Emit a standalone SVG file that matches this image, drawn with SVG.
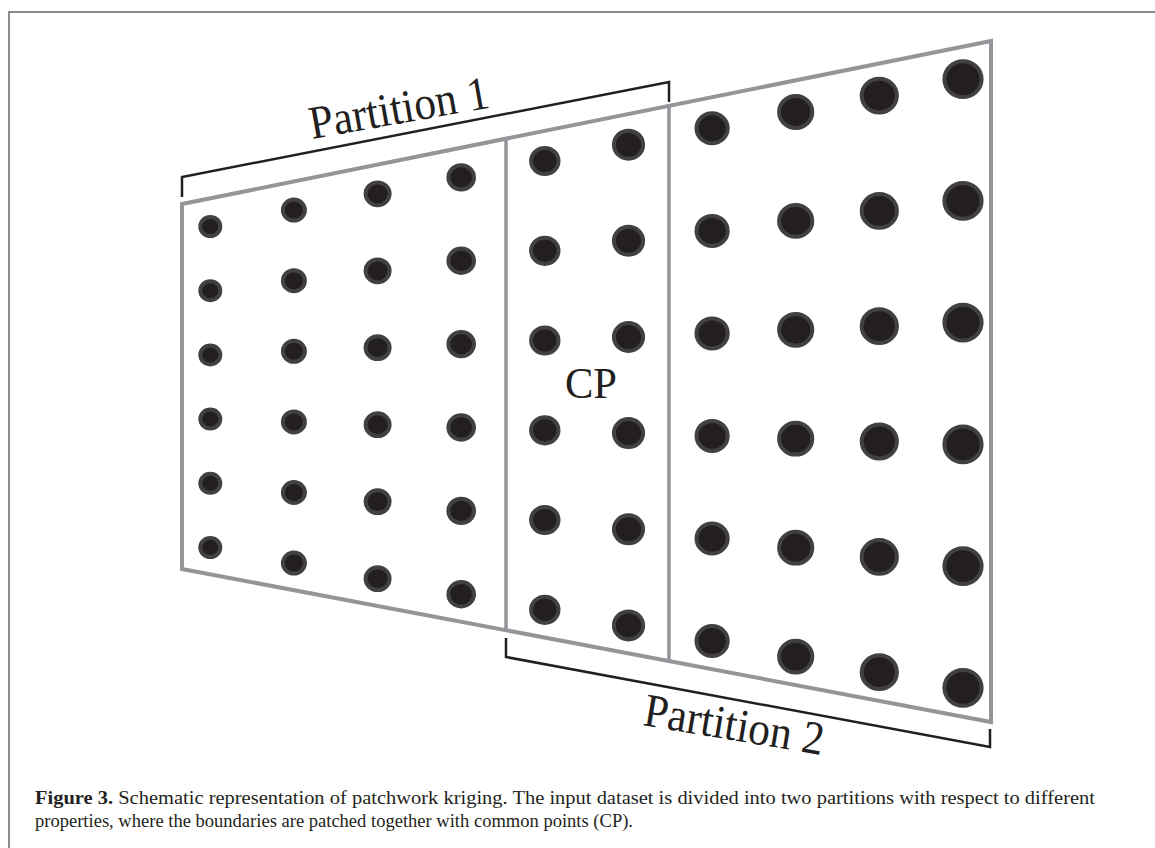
<svg xmlns="http://www.w3.org/2000/svg" width="1155" height="848" viewBox="0 0 1155 848">
<style>
.frame{fill:none;stroke:#8c8c8c;stroke-width:2}
.edge{fill:none;stroke:#939598;stroke-width:4;stroke-linejoin:miter}
.div{fill:none;stroke:#939598;stroke-width:3.5}
.br{fill:none;stroke:#231f20;stroke-width:2.5;stroke-linejoin:miter}
.d{fill:#231f20;stroke:#414042;stroke-width:4}
.lbl{font-family:"Liberation Serif","Times New Roman",serif;fill:#231f20}
.cap{font-family:"Liberation Serif","Times New Roman",serif;font-size:19.5px;fill:#231f20}
</style>
<rect width="1155" height="848" fill="#ffffff"/>
<path class="frame" d="M9,848 V12 H1155"/>
<g id="outline">
<polygon class="edge" points="182,204 991,41 991,722 182,569"/>
<line class="div" x1="506" y1="138.7" x2="506" y2="630.3"/>
<line class="div" x1="669" y1="105.9" x2="669" y2="661.1"/>
</g>
<g id="connectors">
<path id="bracket-p1" class="br" d="M182,197 V177 L669,82 V102"/>
<path id="bracket-p2" class="br" d="M506,638 V657 L990,747 V729"/>
</g>
<g id="col1">
<ellipse class="d" cx="210.3" cy="226.5" rx="10" ry="9.5"/>
<ellipse class="d" cx="210.3" cy="290.7" rx="10" ry="9.5"/>
<ellipse class="d" cx="210.3" cy="354.9" rx="10" ry="9.5"/>
<ellipse class="d" cx="210.3" cy="419.1" rx="10" ry="9.5"/>
<ellipse class="d" cx="210.3" cy="483.3" rx="10" ry="9.5"/>
<ellipse class="d" cx="210.3" cy="547.5" rx="10" ry="9.5"/>
</g>
<g id="col2">
<ellipse class="d" cx="293.9" cy="210.1" rx="11" ry="10.5"/>
<ellipse class="d" cx="293.9" cy="280.7" rx="11" ry="10.5"/>
<ellipse class="d" cx="293.9" cy="351.3" rx="11" ry="10.5"/>
<ellipse class="d" cx="293.9" cy="421.9" rx="11" ry="10.5"/>
<ellipse class="d" cx="293.9" cy="492.5" rx="11" ry="10.5"/>
<ellipse class="d" cx="293.9" cy="563.1" rx="11" ry="10.5"/>
</g>
<g id="col3">
<ellipse class="d" cx="377.6" cy="193.8" rx="12" ry="11.4"/>
<ellipse class="d" cx="377.6" cy="270.8" rx="12" ry="11.4"/>
<ellipse class="d" cx="377.6" cy="347.7" rx="12" ry="11.4"/>
<ellipse class="d" cx="377.6" cy="424.7" rx="12" ry="11.4"/>
<ellipse class="d" cx="377.6" cy="501.7" rx="12" ry="11.4"/>
<ellipse class="d" cx="377.6" cy="578.7" rx="12" ry="11.4"/>
</g>
<g id="col4">
<ellipse class="d" cx="461.2" cy="177.4" rx="12.8" ry="12.2"/>
<ellipse class="d" cx="461.2" cy="260.8" rx="12.8" ry="12.2"/>
<ellipse class="d" cx="461.2" cy="344.1" rx="12.8" ry="12.2"/>
<ellipse class="d" cx="461.2" cy="427.5" rx="12.8" ry="12.2"/>
<ellipse class="d" cx="461.2" cy="510.9" rx="12.8" ry="12.2"/>
<ellipse class="d" cx="461.2" cy="594.2" rx="12.8" ry="12.2"/>
</g>
<g id="col5">
<ellipse class="d" cx="544.8" cy="161.0" rx="13.7" ry="13.1"/>
<ellipse class="d" cx="544.8" cy="250.8" rx="13.7" ry="13.1"/>
<ellipse class="d" cx="544.8" cy="340.5" rx="13.7" ry="13.1"/>
<ellipse class="d" cx="544.8" cy="430.3" rx="13.7" ry="13.1"/>
<ellipse class="d" cx="544.8" cy="520.0" rx="13.7" ry="13.1"/>
<ellipse class="d" cx="544.8" cy="609.8" rx="13.7" ry="13.1"/>
</g>
<g id="col6">
<ellipse class="d" cx="628.5" cy="144.7" rx="14.6" ry="14"/>
<ellipse class="d" cx="628.5" cy="240.8" rx="14.6" ry="14"/>
<ellipse class="d" cx="628.5" cy="337.0" rx="14.6" ry="14"/>
<ellipse class="d" cx="628.5" cy="433.1" rx="14.6" ry="14"/>
<ellipse class="d" cx="628.5" cy="529.3" rx="14.6" ry="14"/>
<ellipse class="d" cx="628.5" cy="625.4" rx="14.6" ry="14"/>
</g>
<g id="col7">
<ellipse class="d" cx="712.1" cy="128.3" rx="15.6" ry="15"/>
<ellipse class="d" cx="712.1" cy="230.9" rx="15.6" ry="15"/>
<ellipse class="d" cx="712.1" cy="333.4" rx="15.6" ry="15"/>
<ellipse class="d" cx="712.1" cy="435.9" rx="15.6" ry="15"/>
<ellipse class="d" cx="712.1" cy="538.5" rx="15.6" ry="15"/>
<ellipse class="d" cx="712.1" cy="641.0" rx="15.6" ry="15"/>
</g>
<g id="col8">
<ellipse class="d" cx="795.7" cy="112.0" rx="16.6" ry="15.9"/>
<ellipse class="d" cx="795.7" cy="220.9" rx="16.6" ry="15.9"/>
<ellipse class="d" cx="795.7" cy="329.8" rx="16.6" ry="15.9"/>
<ellipse class="d" cx="795.7" cy="438.7" rx="16.6" ry="15.9"/>
<ellipse class="d" cx="795.7" cy="547.7" rx="16.6" ry="15.9"/>
<ellipse class="d" cx="795.7" cy="656.6" rx="16.6" ry="15.9"/>
</g>
<g id="col9">
<ellipse class="d" cx="879.3" cy="95.6" rx="17.6" ry="16.9"/>
<ellipse class="d" cx="879.3" cy="210.9" rx="17.6" ry="16.9"/>
<ellipse class="d" cx="879.3" cy="326.2" rx="17.6" ry="16.9"/>
<ellipse class="d" cx="879.3" cy="441.5" rx="17.6" ry="16.9"/>
<ellipse class="d" cx="879.3" cy="556.9" rx="17.6" ry="16.9"/>
<ellipse class="d" cx="879.3" cy="672.2" rx="17.6" ry="16.9"/>
</g>
<g id="col10">
<ellipse class="d" cx="963.0" cy="79.2" rx="18.6" ry="17.9"/>
<ellipse class="d" cx="963.0" cy="200.9" rx="18.6" ry="17.9"/>
<ellipse class="d" cx="963.0" cy="322.6" rx="18.6" ry="17.9"/>
<ellipse class="d" cx="963.0" cy="444.4" rx="18.6" ry="17.9"/>
<ellipse class="d" cx="963.0" cy="566.1" rx="18.6" ry="17.9"/>
<ellipse class="d" cx="963.0" cy="687.8" rx="18.6" ry="17.9"/>
</g>
<g id="label-partition1">
<text class="lbl" x="312" y="139" font-size="47" textLength="182" lengthAdjust="spacingAndGlyphs" transform="rotate(-10 312 139)">Partition 1</text>
</g>
<g id="label-partition2">
<text class="lbl" x="642" y="725" font-size="47" textLength="182" lengthAdjust="spacingAndGlyphs" transform="rotate(9.5 642 725)">Partition 2</text>
</g>
<g id="label-cp">
<text class="lbl" x="565" y="398" font-size="44" textLength="52" lengthAdjust="spacingAndGlyphs">CP</text>
</g>
<g id="caption">
<text class="cap" x="35" y="804" textLength="1060" lengthAdjust="spacingAndGlyphs"><tspan font-weight="bold">Figure 3.</tspan> Schematic representation of patchwork kriging. The input dataset is divided into two partitions with respect to different</text>
<text class="cap" x="35" y="827" textLength="598" lengthAdjust="spacingAndGlyphs">properties, where the boundaries are patched together with common points (CP).</text>
</g>
</svg>
